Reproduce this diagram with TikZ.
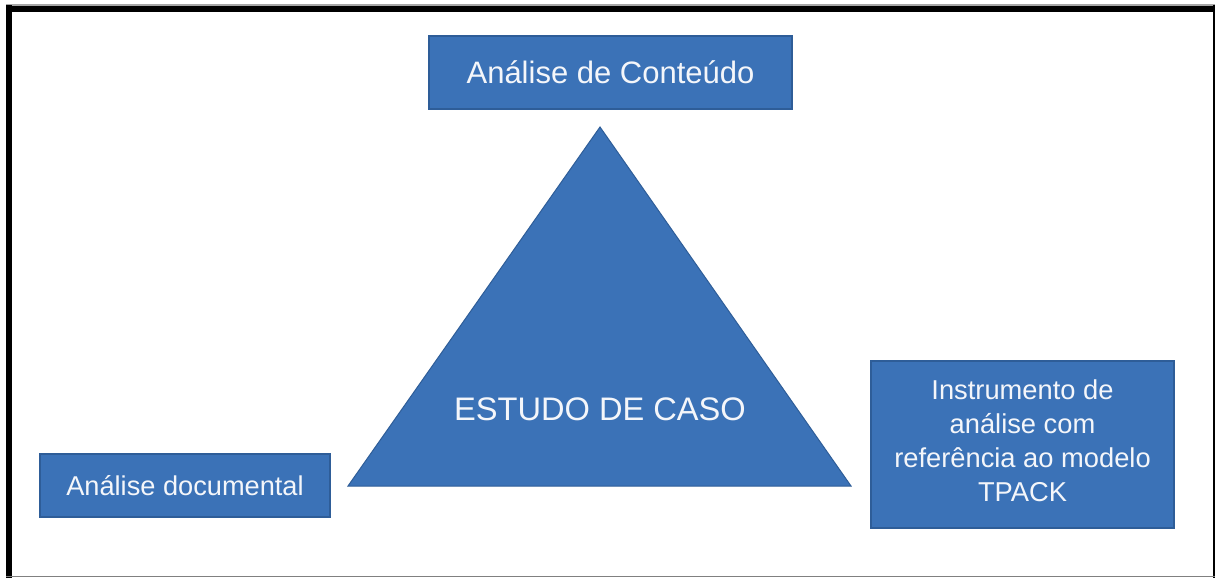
\documentclass[tikz,border=0pt]{standalone}
\usepackage{fontspec}
\setmainfont{Liberation Sans}
\definecolor{boxfill}{HTML}{3B72B7}
\definecolor{boxline}{HTML}{2E5D98}
\definecolor{txt}{HTML}{F4F6FA}
\begin{document}
\begin{tikzpicture}[x=1pt,y=-1pt,
  bluebox/.style={draw=boxline,line width=1.5pt,fill=boxfill,text=txt,inner sep=0pt,align=center},
  lbl/.style={text=txt,inner sep=0pt,align=center}]
\useasboundingbox (0,0) rectangle (1217,578);
% frame
\fill[white] (0,0) rectangle (1217,578);
\fill[black] (6,5) rectangle (1215,12);
\fill[gray!70] (6,4) rectangle (1215,6);
\fill[black] (6,5) rectangle (12,578);
\fill[black] (1212.5,5) rectangle (1215,578);
\draw[gray,line width=1.2pt] (6,576.5) -- (1215,576.5);
% boxes
\node[bluebox,minimum width=363pt,minimum height=73pt,font=\fontsize{31}{34}\selectfont] (top) at (610.5,72.5) {Análise de Conteúdo};
\node[bluebox,minimum width=290pt,minimum height=63pt,font=\fontsize{27.2}{34}\selectfont] (left) at (185,485.5) {Análise documental};
\node[bluebox,minimum width=303pt,minimum height=167pt] (right) at (1022.5,444.5) {};
\node[lbl,font=\fontsize{27.3}{34}\selectfont] (righttext) at (1022.5,440.5) {Instrumento de\\análise com\\referência ao modelo\\TPACK};
% triangle
\coordinate (apex) at (600,127);
\coordinate (bl) at (348,486);
\coordinate (br) at (851,486);
\draw[draw=boxline,line width=1pt,fill=boxfill] (apex) -- (bl) -- (br) -- cycle;
\node[lbl,font=\fontsize{32.6}{36}\selectfont] (center) at (600,409) {ESTUDO DE CASO};
\end{tikzpicture}
\end{document}
